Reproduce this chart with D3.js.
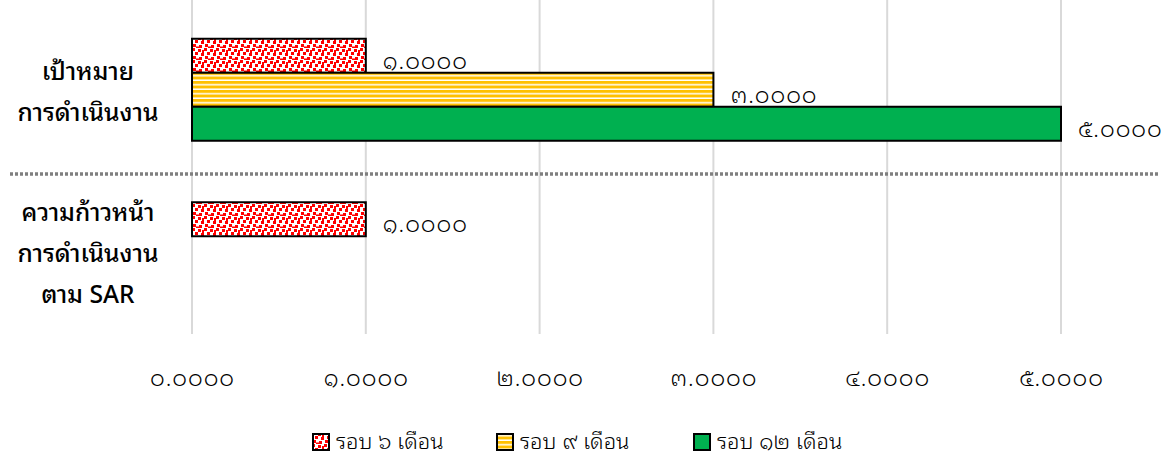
<!DOCTYPE html>
<html><head><meta charset="utf-8">
<script src="https://cdn.jsdelivr.net/npm/d3@7"></script>
<style>
body{margin:0;background:#fff;}
svg{display:block;font-family:"Noto Sans Thai Looped","Noto Sans Thai","Noto Sans",sans-serif;}
</style></head>
<body><svg id="c" width="1163" height="459"></svg>
<script>
const categories = [["เป้าหมาย","การดำเนินงาน"],["ความก้าวหน้า","การดำเนินงาน","ตาม SAR"]];
const seriesNames = ["รอบ ๖ เดือน","รอบ ๙ เดือน","รอบ ๑๒ เดือน"];
const series6 = [1, 1];
const series9 = [3, null];
const series12 = [5, null];
const tickValues = [0,1,2,3,4,5];
const thaiDigits = "๐๑๒๓๔๕๖๗๘๙";
const fmt = v => v.toFixed(4).replace(/[0-9]/g, d => thaiDigits[+d]);

const svg = d3.select("#c");
const defs = svg.append("defs");
const pc = defs.append("pattern").attr("id","confetti").attr("patternUnits","userSpaceOnUse").attr("width",12).attr("height",12);
pc.append("rect").attr("width",12).attr("height",12).attr("fill","#fff");
[[0,0],[6,1],[3,4],[9,5],[1,8],[7,9],[4,10.5],[10,2]].forEach(([x,y])=>{
  pc.append("rect").attr("x",x).attr("y",y).attr("width",3).attr("height",3).attr("fill","#ff0000");
});
const ps = defs.append("pattern").attr("id","stripes").attr("patternUnits","userSpaceOnUse").attr("width",8).attr("height",4.5);
ps.append("rect").attr("width",8).attr("height",4.5).attr("fill","#fff");
ps.append("rect").attr("y",0).attr("width",8).attr("height",3).attr("fill","#ffc000");
const fills = ["url(#confetti)","url(#stripes)","#00b050"];

const x = d3.scaleLinear().domain([0,5]).range([192,1061]);
const y0 = d3.scaleBand().domain([0,1]).range([8,335]).paddingInner(0).paddingOuter(0);
const barH = 34;

svg.append("g").selectAll("line").data(tickValues).join("line")
  .attr("x1",d=>x(d)).attr("x2",d=>x(d)).attr("y1",0).attr("y2",334)
  .attr("stroke","#d9d9d9").attr("stroke-width",2);

svg.append("line").attr("x1",10).attr("x2",1160).attr("y1",174).attr("y2",174)
  .attr("stroke","#7f7f7f").attr("stroke-width",3.5).attr("stroke-dasharray","3,2");

const axis = d3.axisBottom(x).tickValues(tickValues).tickFormat(fmt).tickSize(0);
const ag = svg.append("g").attr("transform","translate(0,367)").call(axis);
ag.attr("font-family",null).attr("font-size",null);
ag.select(".domain").remove();
ag.selectAll("text").attr("font-size",23).attr("font-weight",300).attr("letter-spacing",1).attr("fill","#000");

const allSeries = [series6, series9, series12];
categories.forEach((cat,ci)=>{
  const center = y0(ci) + y0.bandwidth()/2;
  const top = center - barH*1.5;
  allSeries.forEach((s,si)=>{
    const v = s[ci];
    if (v==null) return;
    const yy = top + si*barH;
    svg.append("rect").attr("x",x(0)).attr("y",yy).attr("width",x(v)-x(0)).attr("height",barH)
      .attr("fill",fills[si]).attr("stroke","#000").attr("stroke-width",2);
    svg.append("text").attr("x",x(v)+17).attr("y",yy+barH/2+7).attr("dominant-baseline","middle")
      .attr("font-size",23).attr("font-weight",300).attr("letter-spacing",1).text(fmt(v));
  });
  const lh = 41;
  const startY = ci===0 ? center - 16 : center - 39;
  cat.forEach((t,li)=>{
    svg.append("text").attr("x",88).attr("y",startY + li*lh).attr("text-anchor","middle")
      .attr("dominant-baseline","middle").attr("font-size",24.5).attr("font-weight",500).text(t);
  });
});

const legX = [313,497,694];
seriesNames.forEach((n,i)=>{
  svg.append("rect").attr("x",legX[i]).attr("y",434).attr("width",16).attr("height",16)
    .attr("fill",fills[i]).attr("stroke","#000").attr("stroke-width",2);
  svg.append("text").attr("x",legX[i]+23).attr("y",443).attr("dominant-baseline","middle")
    .attr("font-size",22).attr("font-weight",300).text(n);
});
</script></body></html>
